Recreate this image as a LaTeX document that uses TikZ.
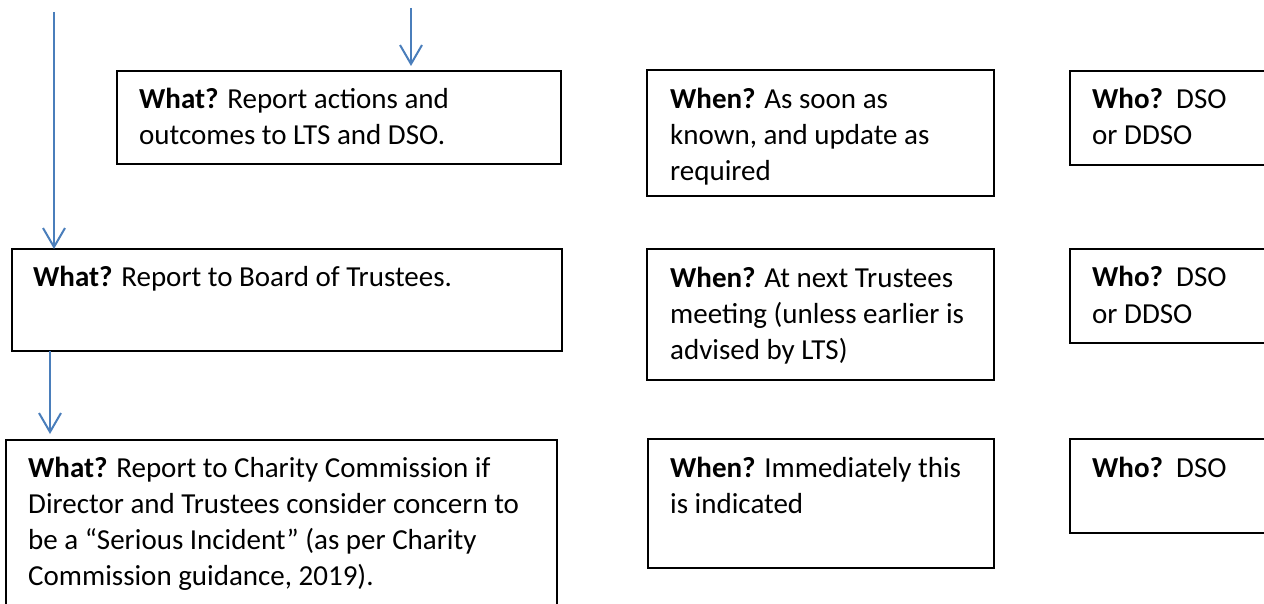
\documentclass[tikz,border=0pt]{standalone}
\usepackage{fontspec}
\setmainfont{Carlito}
\usetikzlibrary{arrows.meta}
\definecolor{flowblue}{RGB}{74,126,187}
\begin{document}
\begin{tikzpicture}[x=1pt,y=-1pt,
  box/.style={draw=black, line width=2pt, inner sep=0pt, outer sep=0pt, anchor=north west},
  % multi-line texts are placed by the baseline of their last line
  txt/.style={anchor=base west, inner sep=0pt, align=left, font=\fontsize{29}{36}\selectfont},
  flow/.style={draw=flowblue, line width=2pt, -{Straight Barb[length=19pt,width=22pt]}}]
\useasboundingbox (0,0) rectangle (1264,604);
\clip (0,0) rectangle (1264,604);

% "What?" column
\node[box, minimum width=444pt, minimum height=93pt]  (a) at (117,71) {};
\node[box, minimum width=550pt, minimum height=102pt] (b) at (12,249) {};
\node[box, minimum width=551pt, minimum height=200pt] (c) at (6,440) {};
\node[txt] (at) at (139,145) {\textbf{What?} Report actions and\\outcomes to LTS and DSO.};
\node[txt] (bt) at (33,287) {\textbf{What?} Report to Board of Trustees.};
\node[txt] (ct) at (28,585) {\textbf{What?} Report to Charity Commission if\\Director and Trustees consider concern to\\be a “Serious Incident” (as per Charity\\Commission guidance, 2019).};

% "When?" column
\node[box, minimum width=347pt, minimum height=126pt] (w1) at (647,70) {};
\node[box, minimum width=347pt, minimum height=131pt] (w2) at (647,249) {};
\node[box, minimum width=346pt, minimum height=129pt] (w3) at (648,439) {};
\node[txt] (w1t) at (670,181) {\textbf{When?} As soon as\\known, and update as\\required};
\node[txt] (w2t) at (670,359) {\textbf{When?} At next Trustees\\meeting (unless earlier is\\advised by LTS)};
\node[txt] (w3t) at (670,513) {\textbf{When?} Immediately this\\is indicated};

% "Who?" column
\node[box, minimum width=250pt, minimum height=94pt] (h1) at (1070,71) {};
\node[box, minimum width=250pt, minimum height=94pt] (h2) at (1070,249) {};
\node[box, minimum width=250pt, minimum height=94pt] (h3) at (1070,439) {};
\node[txt] (h1t) at (1092,145) {\textbf{Who?}\ \ DSO\\or DDSO};
\node[txt] (h2t) at (1092,323) {\textbf{Who?}\ \ DSO\\or DDSO};
\node[txt] (h3t) at (1092,477) {\textbf{Who?}\ \ DSO};

% flow arrows
\coordinate (s1) at (54,12);
\coordinate (s2) at (411,8);
\coordinate (s3) at (50,0);
\draw[flow] (s1) -- (s1 |- b.north);
\draw[flow, shorten >=5pt] (s2) -- (s2 |- a.north);
\draw[flow, shorten >=6pt] (s3 |- b.south) -- (s3 |- c.north);
\end{tikzpicture}
\end{document}
